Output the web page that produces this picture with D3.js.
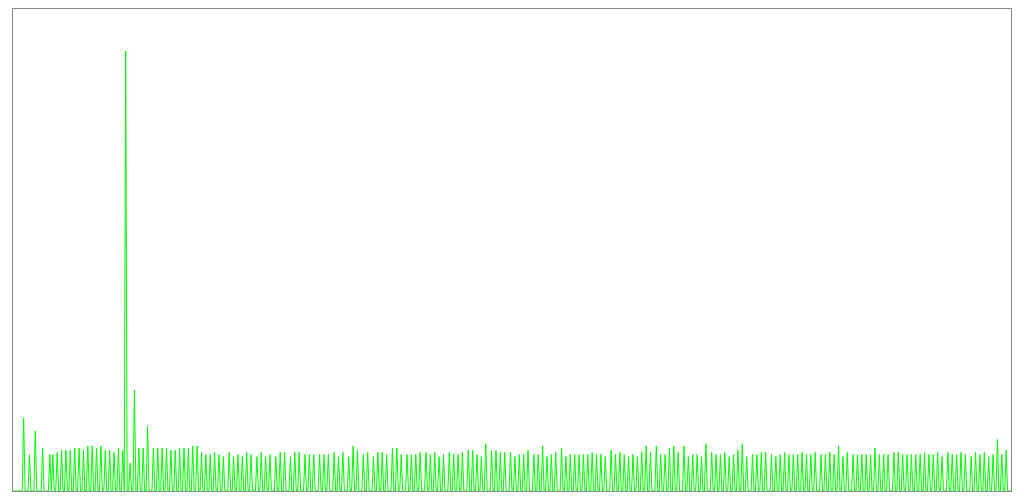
<!DOCTYPE html>
<html>
<head>
<meta charset="utf-8">
<style>
  html, body { margin: 0; padding: 0; background: #fff; }
</style>
</head>
<body>
<div id="container"></div>

<script src="https://cdn.jsdelivr.net/npm/d3@7"></script>
<script>

// samples along the x axis (0 .. sampleCount), zero everywhere except the spikes
const sampleCount = 686;

// sample index of each spike
const spikeIndex = [
  8,12,16,21,26,28,31,34,37,40,43,46,49,52,55,58,61,64,67,70,73,76,78,81,84,87,90,93,97,
  100,103,106,109,112,115,118,121,124,127,130,133,136,139,142,145,149,152,155,158,161,164,168,171,174,177,181,184,187,191,194,
  197,201,204,207,211,214,217,221,224,227,231,234,237,241,244,248,251,254,257,261,264,267,271,274,277,280,284,287,290,293,
  296,300,303,306,309,313,316,319,322,325,329,332,335,338,342,345,348,351,354,358,361,364,367,370,373,377,380,383,386,389,392,
  395,398,401,404,407,411,414,417,420,423,426,429,432,435,438,442,445,448,451,454,457,461,464,467,470,473,476,480,483,486,489,
  492,495,498,501,504,508,511,514,517,521,524,527,530,533,536,539,542,545,548,551,555,558,561,564,567,570,573,577,580,583,586,
  589,592,595,598,601,605,608,611,614,617,620,623,626,629,632,635,638,642,645,648,651,654,658,661,664,667,670,673,676,679,682
];

// spike heights, same order
const spikeValue = [
  34,17,28,20,17,17,18,19,19,19,20,20,19,21,21,20,21,19,19,18,20,19,205,13,47,20,20,30,20,
  20,20,20,19,19,20,20,20,21,21,18,17,17,18,17,16,18,16,17,16,18,17,16,18,16,17,16,18,18,16,18,
  18,17,17,17,17,17,17,18,16,18,16,21,19,17,18,16,18,18,17,20,20,17,17,17,17,18,18,17,18,16,
  17,18,17,17,18,19,19,17,16,22,19,19,18,18,18,16,17,17,19,17,17,21,16,17,18,20,16,17,17,17,17,
  17,18,17,17,16,19,17,18,17,16,17,16,18,21,18,21,17,17,20,21,18,21,16,17,17,16,22,18,17,17,18,
  16,17,19,22,16,17,17,18,18,17,16,17,18,17,17,17,18,17,17,18,17,17,18,17,21,16,18,17,17,17,17,
  17,20,17,17,17,18,18,17,17,17,17,17,18,17,17,18,16,18,17,17,18,17,16,18,17,18,16,17,24,17,19
];

const yMax = 225;

const width = 1024;
const height = 500;
const margin = { top: 8, right: 12, bottom: 9, left: 12 };

// sparse -> dense series
let series = d3.range(sampleCount + 1).map(i => ({ i: i, v: 0 }));
spikeIndex.forEach((idx, k) => series[idx].v = spikeValue[k]);

const x = d3.scaleLinear()
    .domain([0, sampleCount])
    .range([margin.left, width - margin.right]);

const y = d3.scaleLinear()
    .domain([0, yMax])
    .range([height - margin.bottom, margin.top]);

const svg = d3.create("svg")
    .attr("width", width)
    .attr("height", height);

const line = d3.line()
    .x(d => x(d.i))
    .y(d => y(d.v));

svg.append("path")
    .datum(series)
    .attr("fill", "none")
    .attr("stroke", "lime")
    .attr("stroke-width", 1)
    .attr("d", line);

// frame
svg.append("rect")
    .attr("x", margin.left + 0.5)
    .attr("y", margin.top + 0.5)
    .attr("width", width - margin.left - margin.right - 1)
    .attr("height", height - margin.top - margin.bottom)
    .attr("fill", "none")
    .attr("stroke", "#888")
    .attr("stroke-width", 1);

container.append(svg.node());

</script>
</body>
</html>
